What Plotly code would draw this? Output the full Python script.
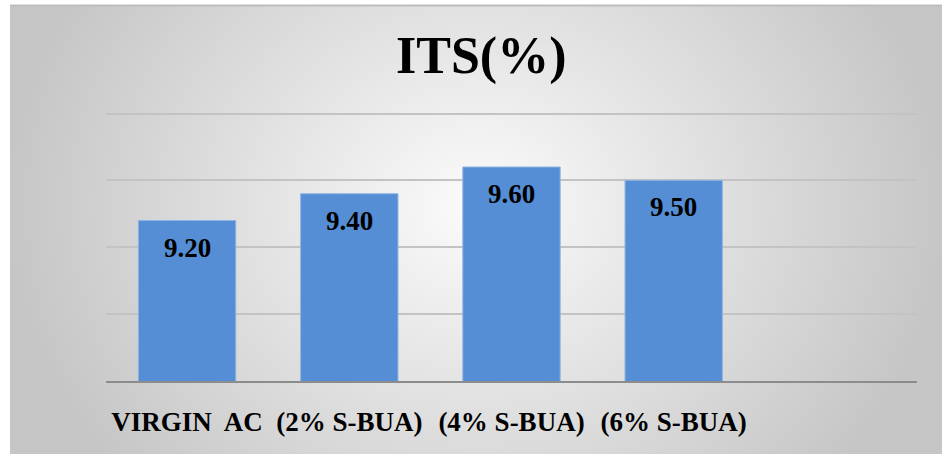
import plotly.graph_objects as go

# Chart data
categories = ["VIRGIN  AC", "(2% S-BUA)", "(4% S-BUA)", "(6% S-BUA)"]
its_values = [9.20, 9.40, 9.60, 9.50]
y_ticks = [8.0, 8.5, 9.0, 9.5, 10.0]
chart_title = "ITS(%)"

W, H = 942, 454
SERIF = "Liberation Serif"

# y axis: 8 -> 381 px, 10 -> 113.5 px; a tiny headroom keeps the top gridline visible
Y_MIN, Y_MAX = 8.0, 10.01
PX_PER_UNIT = (381 - 113.5) / 2.0


def px_x(p):
    return p / W


def px_y(p):
    return 1 - p / H


fig = go.Figure()

# Soft grey backdrop with a radial light spot in the upper middle
fig.add_trace(go.Scatter(
    x=[0, 1, 1, 0, 0], y=[-0.35, -0.35, 1.45, 1.45, -0.35],
    mode="lines", line=dict(width=0), fill="toself",
    fillgradient=dict(type="radial", colorscale=[[0, "#fbfbfb"], [1, "#c6c6c6"]]),
    hoverinfo="skip", showlegend=False, xaxis="x", yaxis="y",
))

# ITS bars
fig.add_trace(go.Bar(
    x=categories, y=its_values, width=0.6,
    marker=dict(color="#558ed5", line=dict(color="#8db3e2", width=1)),
    hoverinfo="skip", showlegend=False, xaxis="x2", yaxis="y2",
))

# Value labels inside the top of each bar
for cat, val in zip(categories, its_values):
    fig.add_annotation(
        x=cat, y=val, xref="x2", yref="y2", text=f"{val:.2f}",
        showarrow=False, yanchor="middle", yshift=-27,
        font=dict(family=SERIF, size=27, color="black", weight="bold"),
    )

fig.add_annotation(
    x=px_x(481), y=px_y(56), xref="paper", yref="paper", text=chart_title,
    showarrow=False, xanchor="center", yanchor="middle",
    font=dict(family=SERIF, size=52, color="black", weight="bold"),
)

fig.add_shape(
    type="line", xref="paper", yref="paper",
    x0=px_x(10), x1=1, y0=px_y(5.5), y1=px_y(5.5),
    line=dict(color="#bdbdbd", width=2),
)

fig.update_layout(
    width=W, height=H,
    margin=dict(l=0, r=0, t=0, b=0),
    paper_bgcolor="white", plot_bgcolor="rgba(0,0,0,0)",
    xaxis=dict(domain=[px_x(10), 1], range=[0, 1], visible=False, fixedrange=True),
    yaxis=dict(domain=[0, px_y(5)], range=[0, 1], visible=False, fixedrange=True),
    xaxis2=dict(
        domain=[px_x(106), px_x(917)], anchor="y2", type="category",
        categoryorder="array", categoryarray=categories, range=[-0.5, 4.5],
        showline=True, linecolor="#8c8c8c", linewidth=2, showgrid=False,
        ticks="", ticklabelstandoff=16,
        tickfont=dict(family=SERIF, size=27, color="black", weight="bold"),
    ),
    yaxis2=dict(
        domain=[px_y(381), px_y(113.5 - (Y_MAX - 10.0) * PX_PER_UNIT)],
        anchor="x2", range=[Y_MIN, Y_MAX],
        tickvals=y_ticks, showticklabels=False, ticks="",
        showgrid=True, gridcolor="#c3c3c3", gridwidth=1.5,
        zeroline=False, showline=False,
    ),
    showlegend=False,
)

fig.write_html("out.html")
